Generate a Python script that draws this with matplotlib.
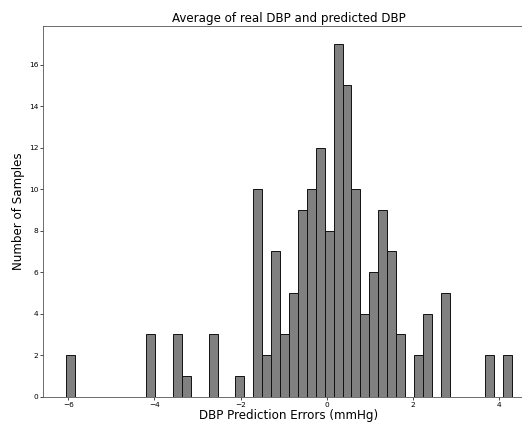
import numpy as np
import matplotlib
matplotlib.use('Agg')
import matplotlib.pyplot as plt

# histogram of DBP prediction errors, 50 bins
err_min, err_max = -6.06, 4.30
counts = [2, 0, 0, 0, 0, 0, 0, 0, 0, 3,
          0, 0, 3, 1, 0, 0, 3, 0, 0, 1,
          0, 10, 2, 7, 3, 5, 9, 10, 12, 8,
          17, 15, 10, 4, 6, 9, 7, 3, 0, 2,
          4, 0, 5, 0, 0, 0, 0, 2, 0, 2]

edges = np.linspace(err_min, err_max, len(counts) + 1)
centers = (edges[:-1] + edges[1:]) / 2

fig = plt.figure(figsize=(5.22, 4.22), dpi=100)
ax = fig.add_axes([0.0831, 0.06, 0.941, 0.878])
ax.hist(centers, bins=edges, weights=counts, color='gray', edgecolor='#111111', linewidth=0.7)

ax.set_title('Average of real DBP and predicted DBP', fontsize=8.6, pad=3)
ax.set_xlabel('DBP Prediction Errors (mmHg)', fontsize=8.6, labelpad=0.8)
ax.set_ylabel('Number of Samples', fontsize=8.6, labelpad=3)
ax.set_yticks(range(0, 17, 2))
ax.tick_params(labelsize=5.3, length=2, width=0.5, pad=1.5)
for s in ax.spines.values():
    s.set_linewidth(0.6)
    s.set_color('#555555')

plt.savefig('out.png', dpi=100)
